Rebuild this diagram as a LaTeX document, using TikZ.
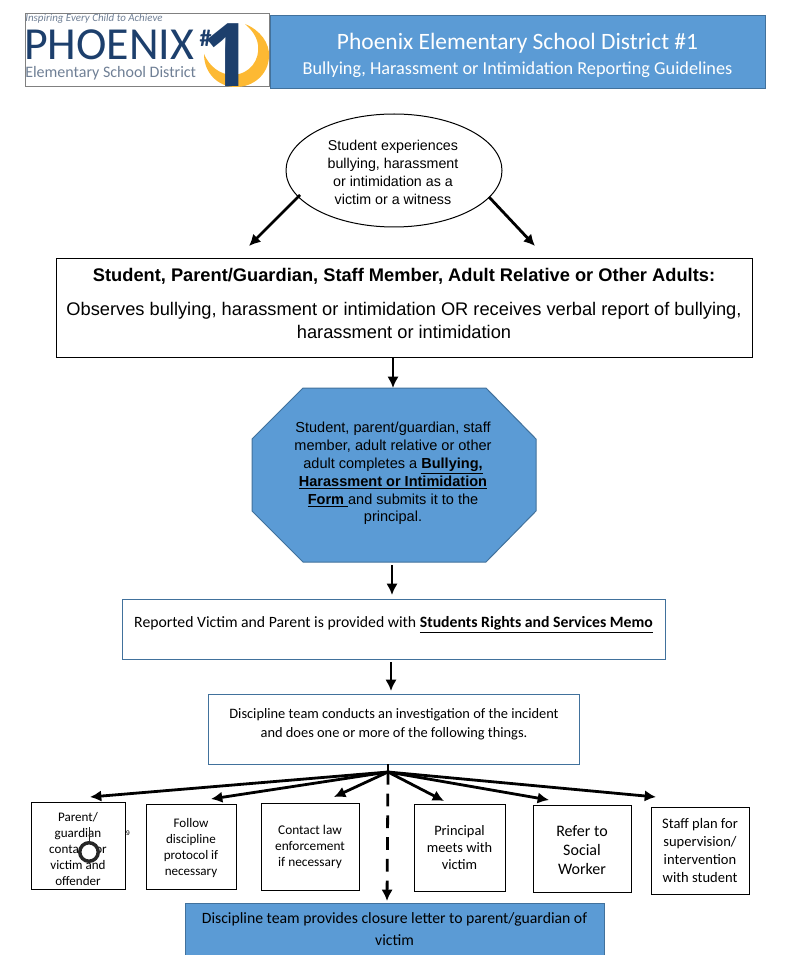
\documentclass[tikz,border=0pt]{standalone}
\usepackage{fontspec}
\setmainfont{Carlito}
\newfontfamily\arialfont{Liberation Sans}
\newfontfamily\logofont{Open Sans}
\usetikzlibrary{arrows.meta}
\definecolor{hdrblue}{HTML}{5B9BD5}
\definecolor{edgeblue}{HTML}{41719C}
\definecolor{logonavy}{HTML}{1D3F6C}
\definecolor{logogray}{HTML}{6F7F95}
\definecolor{logogold}{HTML}{FDB933}
\tikzset{
 flowbox/.style={draw=black,line width=.75pt,align=center,inner sep=0pt,text=black},
 bluebox/.style={draw=edgeblue,line width=.75pt,align=center,inner sep=0pt},
 smallbox/.style={flowbox,font=\fontsize{9.8}{12}\selectfont},
 flowarrow/.style={line width=2.1pt,-{Latex[length=8.5pt,width=8.5pt]}},
 sizedbox/.style n args={2}{minimum width=#1*.75pt,minimum height=#2*.75pt},
}
\begin{document}
\begin{tikzpicture}[x=.75pt,y=-.75pt]
 \useasboundingbox (0,0) rectangle (788,955);
 % logo
 \node[draw=gray,line width=.75pt,sizedbox={244}{73}] (logobox) at (147,50.5) {};
 \fill[logogold] (245,24) .. controls (260,30) and (270,43) .. (269,57) .. controls (268,75) and (253,87) .. (236,87) .. controls (218,87) and (204,73) .. (204,54) .. controls (209,66) and (220,75) .. (233,75) .. controls (250,74) and (260,60) .. (258,45) .. controls (257,37) and (252,30) .. (245,24) -- cycle;
 \node[anchor=west,inner sep=0pt,text=logogray] (logotop) at (25,18.5) {\fontsize{8.2}{9}\selectfont\itshape Inspiring Every Child to Achieve};
 \node[anchor=west,inner sep=0pt,text=logonavy] (logoname) at (24,45) {\fontsize{34.4}{37}\selectfont PHOENIX};
 \node[anchor=west,inner sep=0pt,text=logogray] (logosub) at (25,73) {\fontsize{12}{13.5}\selectfont Elementary School District};
 \node[inner sep=0pt,text=logonavy] (logohash) at (205.5,38) {\fontsize{18}{18}\selectfont\bfseries \#};
 \node[inner sep=0pt,text=logonavy] (logoone) at (228,55) {\logofont\bfseries\fontsize{66}{66}\selectfont 1};
 % header
 \node[bluebox,fill=hdrblue,sizedbox={495}{73}] (header) at (517.5,52.5) {};
 \node[align=center,inner sep=0pt,text=white,font=\fontsize{17.6}{18.7}\selectfont] (headertext) at (517.5,55) {Phoenix Elementary School District \#1\\{\fontsize{13.7}{18.7}\selectfont Bullying, Harassment or Intimidation Reporting Guidelines}};
 % top of the flow
 \draw[black,line width=.75pt] (394,170.5) ellipse (108 and 56.5);
 \node[align=center,inner sep=0pt,font=\arialfont\fontsize{10.7}{13.5}\selectfont] (start) at (393,172) {Student experiences\\bullying, harassment\\or intimidation as a\\victim or a witness};
 \node[flowbox,sizedbox={696}{98}] (observe) at (404,308) {};
 \node[align=center,inner sep=0pt,font=\arialfont\fontsize{13.7}{17.3}\selectfont] (observetext) at (404,303.5) {{\bfseries Student, Parent/Guardian, Staff Member, Adult Relative or Other Adults:}\\[7.5pt]Observes bullying, harassment or intimidation OR receives verbal report of bullying,\\harassment or intimidation};
 \fill[hdrblue,draw=edgeblue,line width=.75pt] (303,388) -- (486,388) -- (536,439) -- (536,511) -- (486,562) -- (303,562) -- (252,511) -- (252,439) -- cycle;
 \node[align=center,inner sep=0pt,font=\arialfont\fontsize{10.9}{13.4}\selectfont] (form) at (393,473.5) {Student, parent/guardian, staff\\member, adult relative or other\\adult completes a \underline{\bfseries Bullying,}\\\underline{\bfseries Harassment or Intimidation}\\\underline{\bfseries Form\ }and submits it to the\\principal.};
 \node[bluebox,sizedbox={543}{60}] (memo) at (393.5,629) {};
 \node[inner sep=0pt,font=\fontsize{11.8}{14}\selectfont] (memotext) at (393.5,624.5) {Reported Victim and Parent is provided with \underline{\bfseries Students Rights and Services Memo}};
 \node[bluebox,sizedbox={371}{70}] (team) at (393.5,729) {};
 \node[align=center,inner sep=0pt,font=\fontsize{10.8}{14.5}\selectfont] (teamtext) at (394,724) {Discipline team conducts an investigation of the incident\\and does one or more of the following things.};
 % the six choices
 \node[smallbox,sizedbox={94}{87}] (parent) at (78,845.5) {};
 \node[align=center,inner sep=0pt,font=\fontsize{9.8}{12}\selectfont] (parenttext) at (78,849) {Parent/\\guardian\\contact for\\victim and\\offender};
 \node[smallbox,sizedbox={90}{85}] (protocol) at (191,846.5) {};
 \node[align=center,inner sep=0pt,font=\fontsize{9.8}{12}\selectfont] (protocoltext) at (191,848) {Follow\\discipline\\protocol if\\necessary};
 \node[smallbox,sizedbox={98}{87},font=\fontsize{10}{12}\selectfont] (police) at (310,846.5) {Contact law\\enforcement\\if necessary};
 \node[smallbox,sizedbox={91}{87},font=\fontsize{10.8}{13}\selectfont] (principal) at (459.5,847.5) {Principal\\meets with\\victim};
 \node[smallbox,sizedbox={98}{87}] (social) at (582,848.5) {};
 \node[align=center,inner sep=0pt,font=\fontsize{12}{14.25}\selectfont] (socialtext) at (582,850) {Refer to\\Social\\Worker};
 \node[smallbox,sizedbox={98}{87},font=\fontsize{10.9}{13.3}\selectfont] (plan) at (700,850.5) {Staff plan for\\supervision/\\intervention\\with student};
 \node[bluebox,fill=hdrblue,sizedbox={419}{52},font=\fontsize{11.8}{16.5}\selectfont] (closure) at (394.5,929) {Discipline team provides closure letter to parent/guardian of\\victim};
 % stray marks on the first box
 \node[inner sep=0pt,font=\arialfont\fontsize{5}{5}\selectfont] (stray) at (128,833) {9};
 \coordinate (markertop) at (89,827);
 \node[draw=black!85,fill=white,line width=2.6pt,circle,minimum size=18.5*.75pt,inner sep=0pt] (marker) at (89,852) {};
 \draw[black!85,line width=.5pt] (markertop) -- (marker);
 % connectors
 \coordinate (startl) at (300,195);
 \coordinate (startr) at (489,197);
 \coordinate (obsl) at (249,246);
 \coordinate (obsr) at (535,246);
 \coordinate (hub) at (388,772);
 \coordinate (hubtop) at (388,764);
 \coordinate (toparent) at (90,797);
 \coordinate (toprotocol) at (211,799);
 \coordinate (topolice) at (334,797);
 \coordinate (toprincipal) at (444,801);
 \coordinate (tosocial) at (549,800);
 \coordinate (toplan) at (656,797);
 \coordinate (toclosure) at (387,901);
 \coordinate (obsb) at (393,358);
 \coordinate (formt) at (393,388);
 \coordinate (formb) at (392,565);
 \coordinate (memot) at (392,595);
 \coordinate (memob) at (391,662);
 \coordinate (teamt) at (391,691);
 \draw[flowarrow] (startl) -- (obsl);
 \draw[flowarrow] (startr) -- (obsr);
 \draw[flowarrow] (obsb) -- (formt);
 \draw[flowarrow] (formb) -- (memot);
 \draw[flowarrow] (memob) -- (teamt);
 \draw[line width=2.1pt] (hubtop) -- (hub);
 \foreach \target in {toparent,toprotocol,topolice,toprincipal,tosocial,toplan}
  \draw[flowarrow] (hub) -- (\target);
 \draw[line width=2.1pt,dash pattern=on 9.5pt off 6.8pt,-{Latex[length=8.5pt,width=8.5pt]}] (hub) -- (toclosure);
\end{tikzpicture}
\end{document}
